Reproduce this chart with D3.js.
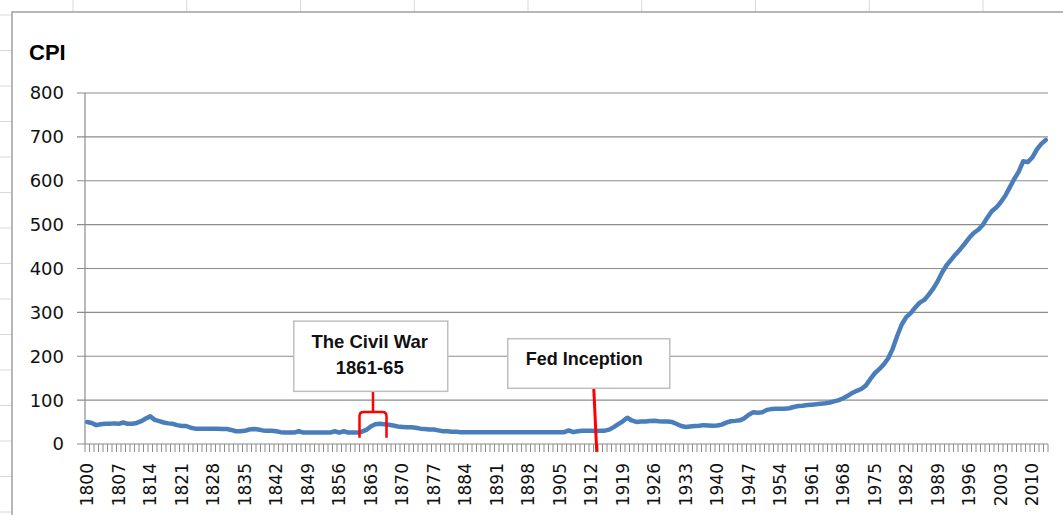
<!DOCTYPE html>
<html>
<head>
<meta charset="utf-8">
<script src="https://cdn.jsdelivr.net/npm/d3@7"></script>
<style>
  body { margin: 0; background: #fff; }
  text { font-family: "DejaVu Sans", Verdana, sans-serif; }
</style>
</head>
<body>
<svg id="chart"></svg>
<script>
// yearly CPI (1967 = 100), 1800 - 2013
var years = d3.range(1800, 2014);
var cpi = [
  50, 48, 43, 45, 46, 46, 47, 46, 49, 46,            // 1800s
  46, 48, 52, 58, 63, 55, 52, 49, 47, 46,            // 1810s
  43, 41, 41, 37, 35, 35, 35, 35, 35, 35,            // 1820s
  34, 34, 32, 29, 29, 30, 33, 34, 33, 31,            // 1830s
  30, 30, 29, 27, 26, 26, 26, 29, 26, 26,            // 1840s
  26, 26, 26, 26, 26, 29, 26, 29, 26, 26,            // 1850s
  26, 28, 32, 40, 45, 46, 45, 44, 42, 40,            // 1860s
  39, 38, 38, 37, 35, 34, 33, 33, 31, 29,            // 1870s
  29, 28, 28, 27, 27, 27, 27, 27, 27, 27,            // 1880s
  27, 27, 27, 27, 27, 27, 27, 27, 27, 27,            // 1890s
  27, 27, 27, 27, 27, 27, 27, 31, 27, 29,            // 1900s
  30, 30, 30, 29.7, 30.1, 30.4, 32.7, 38.4, 45.1, 51.8,
  60.0, 53.6, 50.2, 51.1, 51.2, 52.5, 53.0, 52.0, 51.3, 51.3,
  50.0, 45.6, 40.9, 38.8, 40.1, 41.1, 41.5, 43.0, 42.2, 41.6,
  42.0, 44.1, 48.8, 51.8, 52.7, 53.9, 58.5, 66.9, 72.1, 71.4,
  72.1, 77.8, 79.5, 80.1, 80.5, 80.2, 81.4, 84.3, 86.6, 87.3,
  88.7, 89.6, 90.6, 91.7, 92.9, 94.5, 97.2, 100.0, 104.2, 109.8,
  116.3, 121.3, 125.3, 133.1, 147.7, 161.2, 170.5, 181.5, 195.4, 217.4,
  246.8, 272.4, 289.1, 298.4, 311.1, 322.2, 328.4, 340.4, 354.3, 371.3,
  391.4, 408.0, 420.3, 432.7, 444.0, 456.5, 469.9, 480.8, 488.3, 499.0,
  515.8, 530.4, 538.8, 551.1, 565.8, 585.0, 603.9, 620.8, 644.6, 642.4,
  652.9, 671.0, 684.0, 693.0
];
var yTicks = [0, 100, 200, 300, 400, 500, 600, 700, 800];
var labelYears = d3.range(1800, 2014, 7);   // 1800, 1807 ... 2010

// annotations
var civilWarText = ["The Civil War", "1861-65"];
var civilWarYears = [1861, 1866];
var fedText = "Fed Inception";
var fedYear = 1913;

var width = 1063, height = 515;
var plot = { left: 85, right: 1048, top: 93, bottom: 444 };

var svg = d3.select("#chart")
    .attr("width", width)
    .attr("height", height);

// spreadsheet cells showing around the chart object
var sheet = svg.append("g").attr("stroke", "#d9d9d9").attr("stroke-width", 1);
sheet.selectAll("colLines")
    .data(d3.range(9))
    .enter()
    .append("line")
    .attr("x1", function (d) { return 73 + d * 113.75 })
    .attr("x2", function (d) { return 73 + d * 113.75 })
    .attr("y1", 0)
    .attr("y2", 12)
sheet.selectAll("rowLines")
    .data(d3.range(15))
    .enter()
    .append("line")
    .attr("x1", 0)
    .attr("x2", 12)
    .attr("y1", function (d) { return 15 + d * 35.5 })
    .attr("y2", function (d) { return 15 + d * 35.5 })

// chart frame
svg.append("path")
    .attr("d", "M12," + height + "V12H" + width)
    .attr("fill", "none")
    .attr("stroke", "#a0a0a0")
    .attr("stroke-width", 1.5)

// scales
var x = d3.scaleBand()
    .domain(years)
    .range([plot.left, plot.right])
var xc = function (yr) { return x(yr) + x.bandwidth() / 2 }
var y = d3.scaleLinear()
    .domain([0, 800])
    .range([plot.bottom, plot.top])

// title
svg.append("text")
    .attr("x", 29)
    .attr("y", 60)
    .style("font-family", "'Liberation Sans', Arial, sans-serif")
    .style("font-weight", "bold")
    .style("font-size", "22px")
    .attr("fill", "#000")
    .text("CPI")

// horizontal gridlines + y ticks
svg.selectAll("gridLines")
    .data(yTicks)
    .enter()
    .append("line")
    .attr("x1", plot.left - 8)
    .attr("x2", plot.right)
    .attr("y1", function (d) { return y(d) })
    .attr("y2", function (d) { return y(d) })
    .attr("stroke", "#8c8c8c")
    .attr("stroke-width", 1.2)

svg.append("line")
    .attr("x1", plot.left)
    .attr("x2", plot.left)
    .attr("y1", y(800))
    .attr("y2", y(0))
    .attr("stroke", "#8c8c8c")
    .attr("stroke-width", 1.2)

svg.selectAll("yLabels")
    .data(yTicks)
    .enter()
    .append("text")
    .attr("x", 64)
    .attr("y", function (d) { return y(d) })
    .attr("dy", "0.36em")
    .attr("text-anchor", "end")
    .style("font-size", "18px")
    .attr("fill", "#111")
    .text(function (d) { return d })

// x ticks sit on the category boundaries
svg.selectAll("xTicks")
    .data(years.map(function (d) { return x(d) }).concat([plot.right]))
    .enter()
    .append("line")
    .attr("x1", function (d) { return d })
    .attr("x2", function (d) { return d })
    .attr("y1", y(0))
    .attr("y2", y(0) + 8)
    .attr("stroke", "#8c8c8c")
    .attr("stroke-width", 1)

svg.selectAll("xLabels")
    .data(labelYears)
    .enter()
    .append("text")
    .attr("transform", function (d) { return "translate(" + xc(d) + "," + (y(0) + 19) + ") rotate(-90)" })
    .attr("dy", "0.36em")
    .attr("text-anchor", "end")
    .style("font-size", "17px")
    .attr("fill", "#111")
    .text(function (d) { return d })

// the CPI line
var line = d3.line()
    .x(function (d, i) { return xc(years[i]) })
    .y(function (d) { return y(d) })

svg.append("path")
    .datum(cpi)
    .attr("d", line)
    .attr("fill", "none")
    .attr("stroke", "#4a7ebb")
    .attr("stroke-width", 4.5)
    .attr("stroke-linejoin", "round")
    .attr("stroke-linecap", "round")

// Civil War callout
var cwLeft = x(civilWarYears[0]), cwRight = x(civilWarYears[1]) + x.bandwidth();
var cwMid = (cwLeft + cwRight) / 2;
var braceY = y(73), legY = y(14);
svg.append("path")
    .attr("d", "M" + cwLeft + "," + legY + "V" + (braceY + 4) +
        "Q" + cwLeft + "," + braceY + " " + (cwLeft + 4) + "," + braceY +
        "H" + (cwRight - 4) +
        "Q" + cwRight + "," + braceY + " " + cwRight + "," + (braceY + 4) +
        "V" + legY +
        "M" + cwMid + "," + braceY + "V" + y(131))
    .attr("fill", "none")
    .attr("stroke", "#ff0000")
    .attr("stroke-width", 2.5)

var cwBox = svg.append("g")
cwBox.append("rect")
    .attr("x", xc(1863) - 77)
    .attr("y", y(280))
    .attr("width", 154)
    .attr("height", y(120) - y(280))
    .attr("fill", "#fff")
    .attr("stroke", "#bfbfbf")
    .attr("stroke-width", 1.5)
cwBox.selectAll("text")
    .data(civilWarText)
    .enter()
    .append("text")
    .attr("x", xc(1863) - 1)
    .attr("y", function (d, i) { return 348 + i * 26 })
    .attr("text-anchor", "middle")
    .style("font-family", "'Liberation Sans', Arial, sans-serif")
    .style("font-weight", "bold")
    .style("font-size", "18.5px")
    .attr("fill", "#111")
    .text(function (d) { return d })

// Fed inception callout
svg.append("line")
    .attr("x1", xc(fedYear) - 2)
    .attr("x2", xc(fedYear) + 1)
    .attr("y1", y(128))
    .attr("y2", y(-18))
    .attr("stroke", "#ff0000")
    .attr("stroke-width", 3)

svg.append("rect")
    .attr("x", xc(fedYear) - 88)
    .attr("y", y(240))
    .attr("width", 162)
    .attr("height", y(127) - y(240))
    .attr("fill", "#fff")
    .attr("stroke", "#bfbfbf")
    .attr("stroke-width", 1.5)
svg.append("text")
    .attr("x", xc(fedYear) - 70)
    .attr("y", 365)
    .style("font-family", "'Liberation Sans', Arial, sans-serif")
    .style("font-weight", "bold")
    .style("font-size", "18px")
    .attr("fill", "#111")
    .text(fedText)
</script>
</body>
</html>
